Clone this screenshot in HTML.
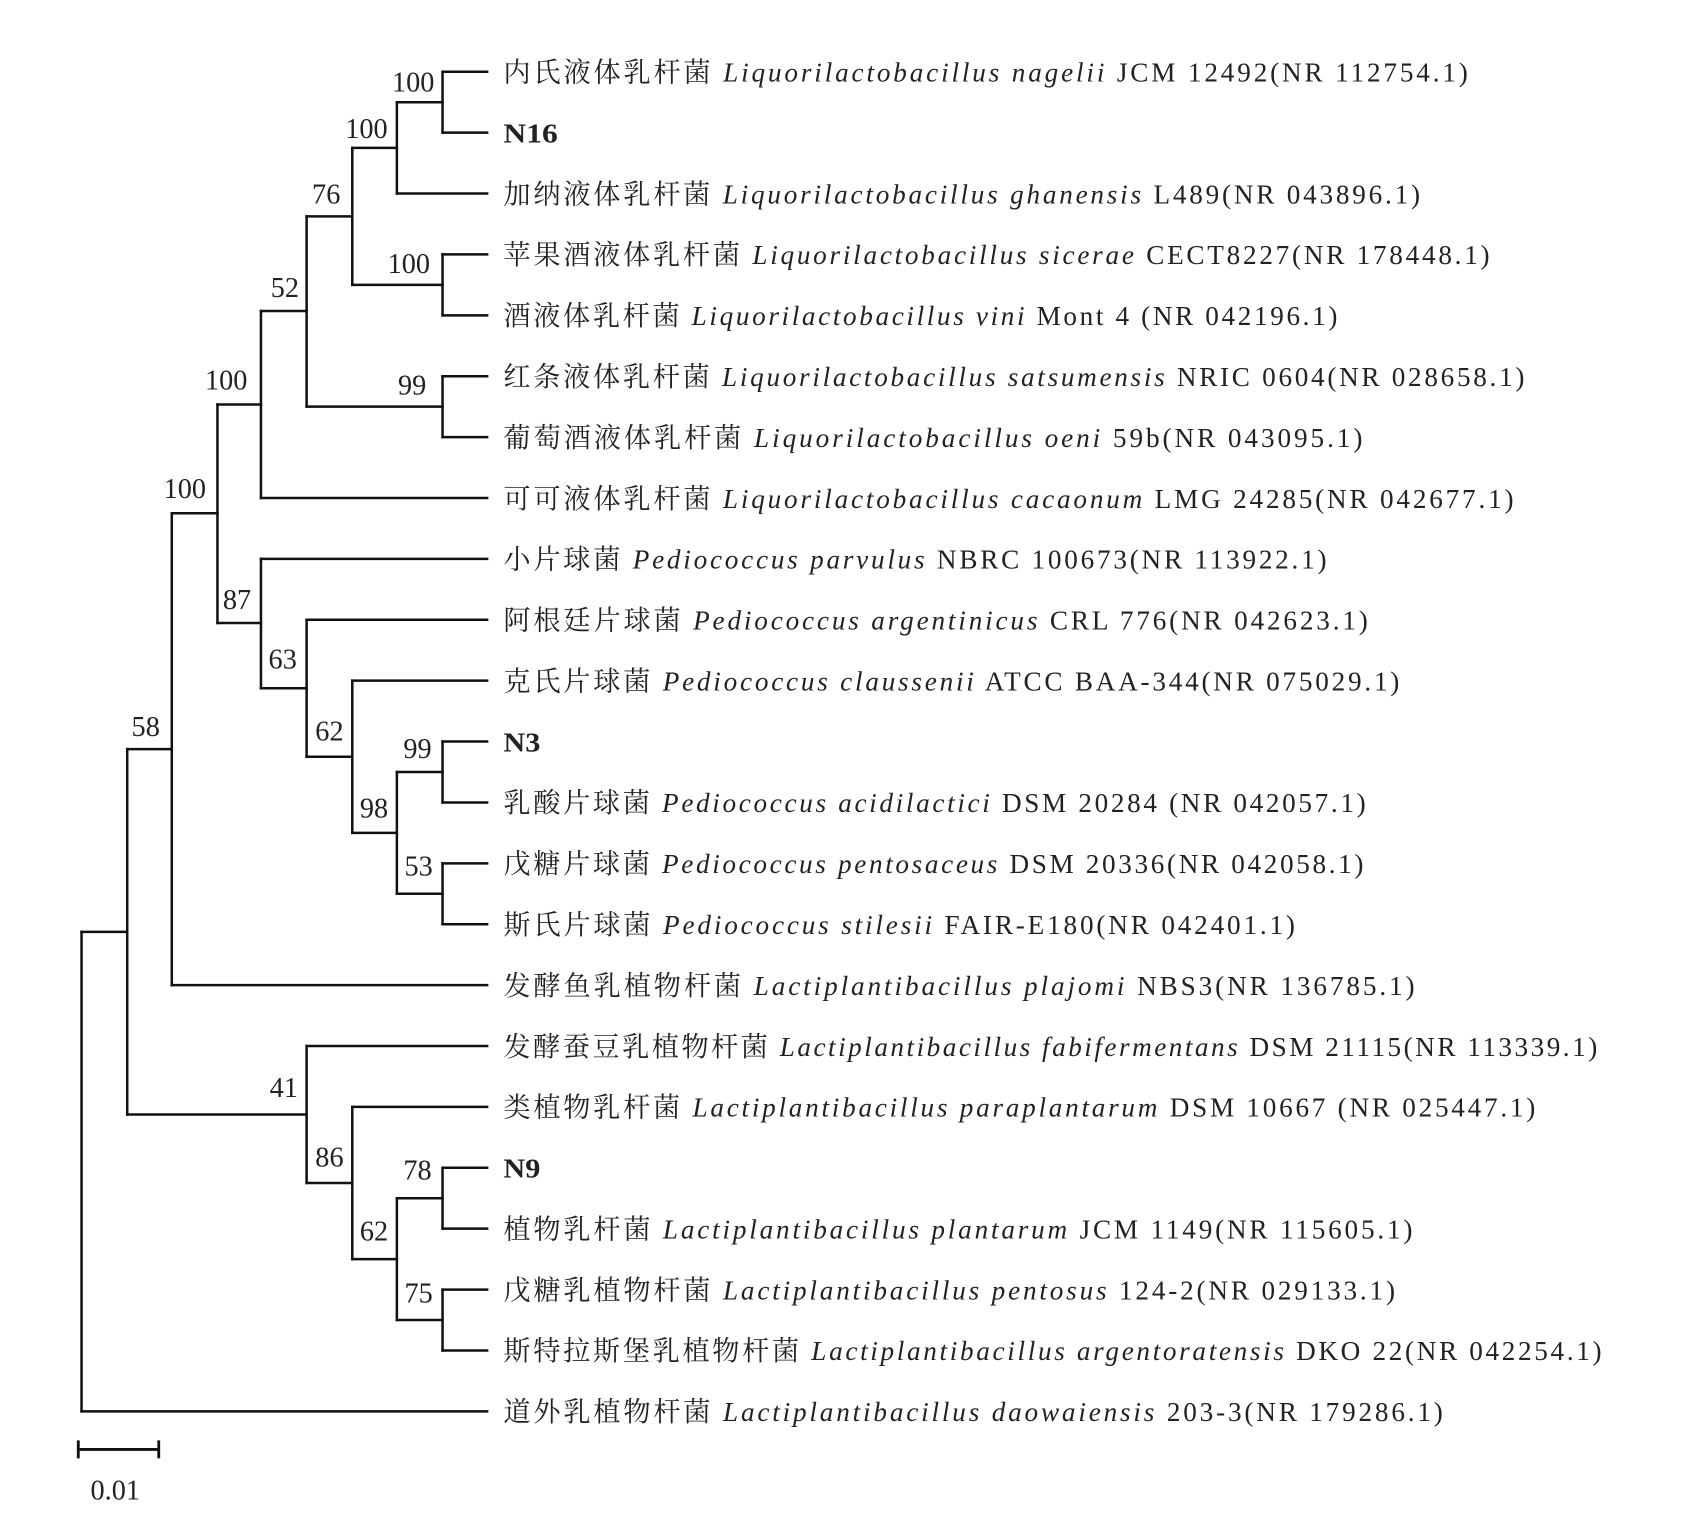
<!DOCTYPE html>
<html><head><meta charset="utf-8"><style>
html,body{margin:0;padding:0;background:#fff;}
svg{display:block;}
text{font-family:"Liberation Serif","Noto Serif CJK SC","Noto Sans CJK SC",serif;fill:#222;}
.l{font-size:25px;}
.b{font-size:26px;}
</style></head><body>
<svg width="1706" height="1519" viewBox="0 0 1569 1397" preserveAspectRatio="none" xmlns="http://www.w3.org/2000/svg">
<g stroke="#111" stroke-width="2.3" fill="none" stroke-linecap="square">
<path d="M407 66H448M407 122H448M365 178H448M407 234H448M407 290H448M407 346H448M407 402H448M240 458H448M240 514H448M282 570H448M324 626H448M407 682H448M407 738H448M407 794H448M407 850H448M158 906H448M282 962H448M324 1018H448M407 1074H448M407 1130H448M407 1186H448M407 1242H448M75 1298H448"/>
<path d="M407 66V122M365 94V178M324 136V262M407 234V290M282 199V374M407 346V402M240 286V458M200 372V573M240 514V633M282 570V696M324 626V766M365 710V822M407 682V738M407 794V850M158 472V906M117 689V1025M282 962V1088M324 1018V1158M365 1102V1214M407 1074V1130M407 1186V1242M75 857V1298"/>
<path d="M365 94H407M324 136H365M282 199H324M324 262H407M240 286H282M282 374H407M200 372H240M158 472H200M200 573H240M240 633H282M282 696H324M324 766H365M365 710H407M365 822H407M117 689H158M75 857H117M117 1025H282M282 1088H324M324 1158H365M365 1102H407M365 1214H407"/>
<path d="M72 1333H146M72 1326V1340M146 1326V1340" stroke-width="2.6"/>
</g>
<g class="b" text-anchor="middle">
<text x="380" y="84">100</text>
<text x="337" y="127">100</text>
<text x="300" y="187">76</text>
<text x="376" y="251">100</text>
<text x="262" y="273">52</text>
<text x="379" y="363">99</text>
<text x="208" y="358">100</text>
<text x="170" y="458">100</text>
<text x="218" y="560">87</text>
<text x="260" y="615">63</text>
<text x="303" y="681">62</text>
<text x="384" y="697">99</text>
<text x="344" y="752">98</text>
<text x="385" y="805">53</text>
<text x="134" y="677">58</text>
<text x="261" y="1009">41</text>
<text x="303" y="1073">86</text>
<text x="384" y="1085">78</text>
<text x="344" y="1141">62</text>
<text x="385" y="1198">75</text>
<text x="106" y="1379">0.01</text>
</g>
<g class="l">
<text x="463" y="75" textLength="887" lengthAdjust="spacing">内氏液体乳杆菌 <tspan font-style="italic">Liquorilactobacillus nagelii</tspan> JCM 12492(NR 112754.1)</text>
<text x="463" y="131" font-weight="bold" textLength="50" lengthAdjust="spacingAndGlyphs">N16</text>
<text x="463" y="187" textLength="843" lengthAdjust="spacing">加纳液体乳杆菌 <tspan font-style="italic">Liquorilactobacillus ghanensis</tspan> L489(NR 043896.1)</text>
<text x="463" y="243" textLength="907" lengthAdjust="spacing">苹果酒液体乳杆菌 <tspan font-style="italic">Liquorilactobacillus sicerae</tspan> CECT8227(NR 178448.1)</text>
<text x="463" y="299" textLength="767" lengthAdjust="spacing">酒液体乳杆菌 <tspan font-style="italic">Liquorilactobacillus vini</tspan> Mont 4 (NR 042196.1)</text>
<text x="463" y="355" textLength="939" lengthAdjust="spacing">红条液体乳杆菌 <tspan font-style="italic">Liquorilactobacillus satsumensis</tspan> NRIC 0604(NR 028658.1)</text>
<text x="463" y="411" textLength="790" lengthAdjust="spacing">葡萄酒液体乳杆菌 <tspan font-style="italic">Liquorilactobacillus oeni</tspan> 59b(NR 043095.1)</text>
<text x="463" y="467" textLength="929" lengthAdjust="spacing">可可液体乳杆菌 <tspan font-style="italic">Liquorilactobacillus cacaonum</tspan> LMG 24285(NR 042677.1)</text>
<text x="463" y="523" textLength="757" lengthAdjust="spacing">小片球菌 <tspan font-style="italic">Pediococcus parvulus</tspan> NBRC 100673(NR 113922.1)</text>
<text x="463" y="579" textLength="795" lengthAdjust="spacing">阿根廷片球菌 <tspan font-style="italic">Pediococcus argentinicus</tspan> CRL 776(NR 042623.1)</text>
<text x="463" y="635" textLength="824" lengthAdjust="spacing">克氏片球菌 <tspan font-style="italic">Pediococcus claussenii</tspan> ATCC BAA-344(NR 075029.1)</text>
<text x="463" y="691" font-weight="bold" textLength="34" lengthAdjust="spacingAndGlyphs">N3</text>
<text x="463" y="747" textLength="793" lengthAdjust="spacing">乳酸片球菌 <tspan font-style="italic">Pediococcus acidilactici</tspan> DSM 20284 (NR 042057.1)</text>
<text x="463" y="803" textLength="791" lengthAdjust="spacing">戊糖片球菌 <tspan font-style="italic">Pediococcus pentosaceus</tspan> DSM 20336(NR 042058.1)</text>
<text x="463" y="859" textLength="728" lengthAdjust="spacing">斯氏片球菌 <tspan font-style="italic">Pediococcus stilesii</tspan> FAIR-E180(NR 042401.1)</text>
<text x="463" y="915" textLength="838" lengthAdjust="spacing">发酵鱼乳植物杆菌 <tspan font-style="italic">Lactiplantibacillus plajomi</tspan> NBS3(NR 136785.1)</text>
<text x="463" y="971" textLength="1006" lengthAdjust="spacing">发酵蚕豆乳植物杆菌 <tspan font-style="italic">Lactiplantibacillus fabifermentans</tspan> DSM 21115(NR 113339.1)</text>
<text x="463" y="1027" textLength="949" lengthAdjust="spacing">类植物乳杆菌 <tspan font-style="italic">Lactiplantibacillus paraplantarum</tspan> DSM 10667 (NR 025447.1)</text>
<text x="463" y="1083" font-weight="bold" textLength="34" lengthAdjust="spacingAndGlyphs">N9</text>
<text x="463" y="1139" textLength="836" lengthAdjust="spacing">植物乳杆菌 <tspan font-style="italic">Lactiplantibacillus plantarum</tspan> JCM 1149(NR 115605.1)</text>
<text x="463" y="1195" textLength="820" lengthAdjust="spacing">戊糖乳植物杆菌 <tspan font-style="italic">Lactiplantibacillus pentosus</tspan> 124-2(NR 029133.1)</text>
<text x="463" y="1251" textLength="1010" lengthAdjust="spacing">斯特拉斯堡乳植物杆菌 <tspan font-style="italic">Lactiplantibacillus argentoratensis</tspan> DKO 22(NR 042254.1)</text>
<text x="463" y="1307" textLength="864" lengthAdjust="spacing">道外乳植物杆菌 <tspan font-style="italic">Lactiplantibacillus daowaiensis</tspan> 203-3(NR 179286.1)</text>
</g>
</svg>
</body></html>
